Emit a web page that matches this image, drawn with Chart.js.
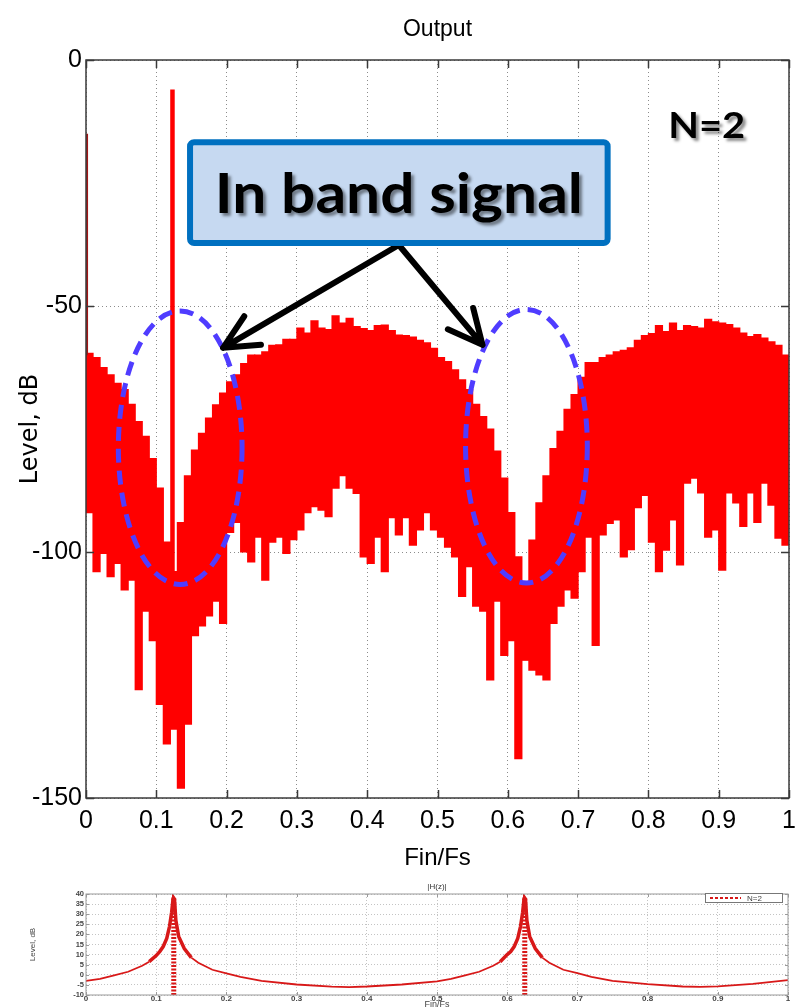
<!DOCTYPE html>
<html>
<head>
<meta charset="utf-8">
<title>Output spectrum, N=2</title>
<script src="https://cdn.jsdelivr.net/npm/chart.js@4.4.1/dist/chart.umd.min.js"></script>
<style>
  html, body { margin: 0; padding: 0; background: #fff; }
  #wrap { position: relative; width: 798px; height: 1008px; overflow: hidden; }
  #outBox { position: absolute; left: 0; top: 0; width: 798px; height: 880px; }
  #hzBox { position: absolute; left: 0; top: 876px; width: 798px; height: 132px; }
</style>
</head>
<body>
<div id="wrap">
  <div id="outBox"><canvas id="outChart"></canvas></div>
  <div id="hzBox"><canvas id="hzChart"></canvas></div>
</div>
<script>
// ---- Output spectrum: 0.01 wide bins, bottom and top of the red band (dB)
var binFreq = [
  0.005, 0.015, 0.025, 0.035, 0.045, 0.055, 0.065, 0.075, 0.085, 0.095,
  0.105, 0.115, 0.125, 0.135, 0.145, 0.155, 0.165, 0.175, 0.185, 0.195,
  0.205, 0.215, 0.225, 0.235, 0.245, 0.255, 0.265, 0.275, 0.285, 0.295,
  0.305, 0.315, 0.325, 0.335, 0.345, 0.355, 0.365, 0.375, 0.385, 0.395,
  0.405, 0.415, 0.425, 0.435, 0.445, 0.455, 0.465, 0.475, 0.485, 0.495,
  0.505, 0.515, 0.525, 0.535, 0.545, 0.555, 0.565, 0.575, 0.585, 0.595,
  0.605, 0.615, 0.625, 0.635, 0.645, 0.655, 0.665, 0.675, 0.685, 0.695,
  0.705, 0.715, 0.725, 0.735, 0.745, 0.755, 0.765, 0.775, 0.785, 0.795,
  0.805, 0.815, 0.825, 0.835, 0.845, 0.855, 0.865, 0.875, 0.885, 0.895,
  0.905, 0.915, 0.925, 0.935, 0.945, 0.955, 0.965, 0.975, 0.985, 0.995
];
var binHigh = [
  -59.6, -60.5, -62.5, -64, -65.7, -67, -70, -73.5, -76.5, -81,
  -87, -98, -104, -94, -84.5, -79.3, -75.9, -72.8, -70.1, -67.7,
  -65.4, -64, -61.7, -60, -60, -59.3, -58, -57.9, -56.8, -56.8,
  -54.5, -55.5, -53, -54.5, -54.8, -52, -53.5, -52.5, -54.2, -54.6,
  -55, -54, -53.9, -55, -55.9, -56, -56.3, -57, -57.5, -58.6,
  -60.5, -61.3, -63, -65, -67, -70, -72.5, -75, -79.5, -85,
  -92, -101, -106, -97.6, -90, -84.5, -79, -75.5, -71, -68,
  -64.5, -61.5, -61.5, -60.5, -60, -59.3, -59, -58.5, -57, -56,
  -55.6, -54, -55.2, -53.5, -55, -54, -54.2, -54.5, -52.7, -53.2,
  -53.5, -53.8, -54.5, -55.5, -56.2, -55.8, -56.5, -57.3, -58, -60
];
var binLow = [
  -92, -104, -100.3, -105, -102.3, -107.7, -105.7, -128, -112, -118,
  -131, -139, -136, -148, -135, -117, -115, -113, -110, -114.5,
  -96, -94, -100, -102, -97, -105.7, -98, -97, -100.3, -97.5,
  -95.5, -92, -90.8, -91.5, -92.8, -87, -84.5, -87, -88.1, -101,
  -102.3, -97, -104, -93, -96.5, -93, -98.6, -95.5, -92, -95.5,
  -97, -99, -101, -109, -103, -111, -112, -126, -110, -121,
  -118, -142, -122, -124, -125, -126, -114.5, -111, -107.7, -109.4,
  -104, -97, -119, -96.5, -94.2, -93.5, -101, -99.5, -91, -88.5,
  -98, -104, -99.6, -93.5, -102.6, -86, -85, -88, -97, -95.5,
  -103.7, -88, -90, -94.8, -88, -94, -86, -90.5, -97.2, -98.6
];
// the input tone and the DC line at the left edge
var toneFreq = 0.123;
var toneLevel = [-6, -104];
var dcFreq = 0.0015;
var dcLevel = [-15, -60];

// ---- |H(z)| of the N=2 loop filter
var hzFreq = [
  0, 0.02, 0.04, 0.06, 0.08, 0.09, 0.1, 0.105, 0.11, 0.115, 0.119, 0.122, 0.124, 0.125,
  0.126, 0.128, 0.132, 0.14, 0.15, 0.16, 0.18, 0.2, 0.22, 0.25, 0.3, 0.35, 0.375, 0.4, 0.45,
  0.5, 0.52, 0.54, 0.56, 0.58, 0.59, 0.6, 0.605, 0.61, 0.615, 0.619, 0.622, 0.624, 0.625,
  0.626, 0.628, 0.632, 0.64, 0.65, 0.66, 0.68, 0.7, 0.72, 0.75, 0.8, 0.85, 0.875, 0.9, 0.95, 1
];
var hzLevel = [
  -3, -2, -0.3, 1.5, 4.5, 6.5, 9.5, 11.5, 14, 18, 24, 31, 37.5, 38,
  37.5, 27, 19, 13, 8.5, 6, 2.5, 0.7, -1, -3, -4.8, -5.9, -6.1, -5.8, -4.8,
  -3.3, -2, -0.3, 1.5, 4.5, 6.5, 10, 11.5, 14, 18, 24, 31, 37.5, 38,
  37.5, 27, 19, 13, 8.5, 6, 2.5, 0.8, -1, -3, -4.6, -5.8, -6, -5.7, -4.5, -2.6
];
var hzPoleFreq = [0.125, 0.625];
var hzPoleLevel = [-10, 38];

// ---- annotation placement, in data units (Fin/Fs, dB)
var bandEllipses = [
  { f: 0.134, db: -78.8, rf: 0.088, rdb: 27.8 },
  { f: 0.6265, db: -78.5, rf: 0.0866, rdb: 27.8 }
];
var calloutBox = { f0: 0.148, f1: 0.742, db0: -16.7, db1: -37.2, text: 'In band signal' };
var arrowFrom = { f: 0.445, db: -37.6 };
var arrowTips = [{ f: 0.195, db: -58.5 }, { f: 0.564, db: -57.9 }];
var orderLabel = { f: 0.883, db: -15.8, text: 'N=2' };

var SANS = "'Liberation Sans', Arial, sans-serif";
var BOLD = "Lato, 'Open Sans', 'Noto Sans', sans-serif";

// tick text like MATLAB: 0, 0.1, ... 1
function tenths(v) {
  return String(Math.round(v * 10) / 10);
}

// keep the plot area where the axes boxes put it (no extra room for end labels)
function noEdgePadding(scale) {
  scale.paddingLeft = 0;
  scale.paddingRight = 0;
  scale.paddingTop = 0;
  scale.paddingBottom = 0;
}

/**
 * Box round the plot area with short inward tick marks (MATLAB style)
 */
var framePlugin = {
  id: 'frame',
  afterDatasetsDraw: function(chart, args, opts) {
    var ctx = chart.ctx, a = chart.chartArea;
    var xs = chart.scales.x, ys = chart.scales.y;
    var tl = opts.tick || 6;
    ctx.save();
    ctx.strokeStyle = opts.color || '#333';
    ctx.lineWidth = opts.width || 1.5;
    ctx.setLineDash([]);
    ctx.beginPath();
    xs.ticks.forEach(function(t) {
      var x = Math.round(xs.getPixelForValue(t.value)) + 0.5;
      ctx.moveTo(x, a.bottom); ctx.lineTo(x, a.bottom - tl);
      ctx.moveTo(x, a.top); ctx.lineTo(x, a.top + tl);
    });
    ys.ticks.forEach(function(t) {
      var y = Math.round(ys.getPixelForValue(t.value)) + 0.5;
      ctx.moveTo(a.left, y); ctx.lineTo(a.left + tl, y);
      ctx.moveTo(a.right, y); ctx.lineTo(a.right - tl, y);
    });
    ctx.stroke();
    ctx.strokeRect(a.left, a.top, a.right - a.left, a.bottom - a.top);
    ctx.restore();
  }
};

// draw text horizontally squeezed/stretched to a given width
function fitText(ctx, text, cx, baseline, width) {
  var w = ctx.measureText(text).width;
  ctx.save();
  ctx.translate(cx, baseline);
  ctx.scale(width / w, 1);
  ctx.textAlign = 'center';
  ctx.textBaseline = 'alphabetic';
  ctx.fillText(text, 0, 0);
  ctx.restore();
}

/**
 * Callout: dashed ellipses, the "In band signal" box, arrows and the N=2 label
 */
var calloutPlugin = {
  id: 'callout',
  afterDatasetsDraw: function(chart) {
    var ctx = chart.ctx, xs = chart.scales.x, ys = chart.scales.y;
    var px = function(f) { return xs.getPixelForValue(f); };
    var py = function(v) { return ys.getPixelForValue(v); };
    ctx.save();

    // dashed ellipses
    ctx.strokeStyle = '#4f3cff';
    ctx.lineWidth = 5;
    ctx.setLineDash([14, 8]);
    bandEllipses.forEach(function(e) {
      var cx = px(e.f), cy = py(e.db);
      ctx.beginPath();
      ctx.ellipse(cx, cy, px(e.f + e.rf) - cx, cy - py(e.db + e.rdb), 0, 0, Math.PI * 2);
      ctx.stroke();
    });
    ctx.setLineDash([]);

    // arrows
    var sx = px(arrowFrom.f), sy = py(arrowFrom.db);
    ctx.strokeStyle = '#000';
    ctx.lineWidth = 6;
    ctx.lineCap = 'round';
    ctx.lineJoin = 'round';
    arrowTips.forEach(function(t) {
      var tx = px(t.f), ty = py(t.db);
      var ang = Math.atan2(sy - ty, sx - tx);
      ctx.beginPath();
      ctx.moveTo(sx, sy); ctx.lineTo(tx, ty);
      ctx.moveTo(tx + 38 * Math.cos(ang - 0.45), ty + 38 * Math.sin(ang - 0.45));
      ctx.lineTo(tx, ty);
      ctx.lineTo(tx + 38 * Math.cos(ang + 0.45), ty + 38 * Math.sin(ang + 0.45));
      ctx.stroke();
    });

    // box
    var bx0 = px(calloutBox.f0), bx1 = px(calloutBox.f1);
    var by0 = py(calloutBox.db0), by1 = py(calloutBox.db1);
    ctx.fillStyle = '#c6d9f1';
    ctx.strokeStyle = '#0070c0';
    ctx.lineWidth = 6;
    ctx.beginPath();
    ctx.roundRect(bx0, by0, bx1 - bx0, by1 - by0, 4);
    ctx.fill();
    ctx.stroke();

    // texts with soft shadow
    ctx.fillStyle = '#000';
    ctx.shadowColor = 'rgba(0,0,0,0.45)';
    ctx.shadowOffsetX = 3;
    ctx.shadowOffsetY = 3;
    ctx.shadowBlur = 3;
    ctx.font = 'bold 56px ' + BOLD;
    fitText(ctx, calloutBox.text, (bx0 + bx1) / 2, by0 + 0.70 * (by1 - by0), 368);
    ctx.font = 'bold 36px ' + BOLD;
    fitText(ctx, orderLabel.text, px(orderLabel.f), py(orderLabel.db), 77);
    ctx.restore();
  }
};

/**
 * Small legend in the top right corner of the |H(z)| plot
 */
var hzLegendPlugin = {
  id: 'hzLegend',
  afterDraw: function(chart) {
    var ctx = chart.ctx, a = chart.chartArea;
    var ds = chart.data.datasets[0];
    var x1 = a.right - 6, x0 = x1 - 77, y0 = a.top - 1, h = 9;
    ctx.save();
    ctx.fillStyle = '#fff';
    ctx.fillRect(x0, y0, x1 - x0, h);
    ctx.strokeStyle = '#777';
    ctx.lineWidth = 1;
    ctx.strokeRect(x0 + 0.5, y0 + 0.5, x1 - x0, h);
    ctx.strokeStyle = ds.borderColor;
    ctx.lineWidth = 2;
    ctx.setLineDash([3, 2]);
    ctx.beginPath();
    ctx.moveTo(x0 + 5, y0 + h / 2 + 0.5);
    ctx.lineTo(x0 + 36, y0 + h / 2 + 0.5);
    ctx.stroke();
    ctx.fillStyle = '#444';
    ctx.font = '8px ' + SANS;
    ctx.textBaseline = 'middle';
    ctx.fillText(ds.label, x0 + 42, y0 + h / 2 + 1);
    ctx.restore();
  }
};

// ---- main chart: output spectrum
var outData = binFreq.map(function(f, i) {
  return { x: f, y: [binLow[i], binHigh[i]] };
});

new Chart(document.getElementById('outChart'), {
  type: 'bar',
  data: {
    datasets: [
      {
        type: 'line',
        label: 'tone',
        data: [{ x: toneFreq, y: toneLevel[0] }, { x: toneFreq, y: toneLevel[1] }],
        borderColor: '#ff0000',
        borderWidth: 4.5,
        pointRadius: 0,
        order: 0
      },
      {
        type: 'line',
        label: 'dc',
        data: [{ x: dcFreq, y: dcLevel[0] }, { x: dcFreq, y: dcLevel[1] }],
        borderColor: '#a31515',
        borderWidth: 2,
        pointRadius: 0,
        order: 0
      },
      {
        label: 'Output',
        data: outData,
        backgroundColor: '#ff0000',
        borderWidth: 0,
        barPercentage: 1,
        categoryPercentage: 1,
        inflateAmount: 0.6,
        order: 1
      }
    ]
  },
  options: {
    responsive: true,
    maintainAspectRatio: false,
    animation: false,
    layout: { padding: { left: 0, right: 9, top: 0, bottom: 0 } },
    plugins: {
      legend: { display: false },
      tooltip: { enabled: false },
      title: {
        display: true,
        fullSize: false,
        text: 'Output',
        color: '#000',
        font: { family: SANS, size: 23, weight: 'normal', lineHeight: 1.2 },
        padding: { top: 16, bottom: 16.4 }
      },
      frame: { color: '#3a3a3a', width: 1.5, tick: 8 }
    },
    scales: {
      x: {
        type: 'linear',
        min: 0,
        max: 1,
        offset: false,
        grid: { color: '#8c8c8c', lineWidth: 1, drawTicks: false, offset: false },
        border: { display: false, dash: [1, 3] },
        ticks: {
          stepSize: 0.1,
          autoSkip: false,
          maxRotation: 0,
          color: '#000',
          padding: 8,
          font: { family: SANS, size: 25, lineHeight: 1.2 },
          callback: tenths
        },
        title: {
          display: true,
          text: 'Fin/Fs',
          color: '#000',
          font: { family: SANS, size: 24, lineHeight: 1.2 },
          padding: { top: 0, bottom: 7 }
        },
        afterFit: function(scale) { scale.height = 82; noEdgePadding(scale); }
      },
      y: {
        min: -150,
        max: 0,
        grid: { color: '#8c8c8c', lineWidth: 1, drawTicks: false },
        border: { display: false, dash: [1, 3] },
        ticks: {
          stepSize: 50,
          color: '#000',
          padding: 4,
          font: { family: SANS, size: 25, lineHeight: 1.2 }
        },
        title: {
          display: true,
          text: 'Level, dB',
          color: '#000',
          font: { family: "'DejaVu Sans', sans-serif", size: 24, lineHeight: 1.2 },
          padding: { top: 16, bottom: 0 }
        },
        afterFit: function(scale) { scale.width = 86; noEdgePadding(scale); }
      }
    }
  },
  plugins: [framePlugin, calloutPlugin]
});

// ---- bottom chart: |H(z)|
var hzData = hzFreq.map(function(f, i) { return { x: f, y: hzLevel[i] }; });
var hzSets = [{
  label: 'N=2',
  data: hzData,
  borderColor: '#d81818',
  borderWidth: 1.8,
  pointRadius: 0,
  segment: {
    borderWidth: function(c) {
      return Math.max(c.p0.parsed.y, c.p1.parsed.y) > 9 ? 3.5 : 1.8;
    }
  }
}];
hzPoleFreq.forEach(function(f) {
  hzSets.push({
    label: 'pole',
    data: [{ x: f, y: hzPoleLevel[0] }, { x: f, y: hzPoleLevel[1] }],
    borderColor: '#d81818',
    borderWidth: 5,
    borderDash: [2, 1.5],
    pointRadius: 0
  });
});

new Chart(document.getElementById('hzChart'), {
  type: 'line',
  data: { datasets: hzSets },
  options: {
    responsive: true,
    maintainAspectRatio: false,
    animation: false,
    layout: { padding: { left: 0, right: 10, top: 0, bottom: 0 } },
    plugins: {
      legend: { display: false },
      tooltip: { enabled: false },
      title: {
        display: true,
        fullSize: false,
        text: '|H(z)|',
        color: '#333',
        font: { family: SANS, size: 8, weight: 'normal', lineHeight: 1.2 },
        padding: { top: 6, bottom: 2.4 }
      },
      frame: { color: '#9a9a9a', width: 1, tick: 3 }
    },
    scales: {
      x: {
        type: 'linear',
        min: 0,
        max: 1,
        grid: { color: '#c4c4c4', lineWidth: 1, drawTicks: false },
        border: { display: false, dash: [1, 2] },
        ticks: {
          stepSize: 0.1,
          autoSkip: false,
          maxRotation: 0,
          color: '#444',
          padding: 0,
          font: { family: SANS, size: 8, weight: 'bold', lineHeight: 1 },
          callback: tenths
        },
        title: {
          display: true,
          text: 'Fin/Fs',
          color: '#444',
          font: { family: SANS, size: 9, lineHeight: 1 },
          padding: { top: 0, bottom: -1 }
        },
        afterFit: function(scale) { scale.height = 13; noEdgePadding(scale); }
      },
      y: {
        min: -10,
        max: 40,
        grid: { color: '#c4c4c4', lineWidth: 1, drawTicks: false },
        border: { display: false, dash: [1, 2] },
        ticks: {
          stepSize: 5,
          autoSkip: false,
          color: '#444',
          padding: 2,
          font: { family: SANS, size: 7.5, weight: 'bold', lineHeight: 1 }
        },
        title: {
          display: true,
          text: 'Level, dB',
          color: '#444',
          font: { family: SANS, size: 8, lineHeight: 1.2 },
          padding: { top: 28, bottom: 0 }
        },
        afterFit: function(scale) { scale.width = 86; noEdgePadding(scale); }
      }
    }
  },
  plugins: [framePlugin, hzLegendPlugin]
});
</script>
</body>
</html>
